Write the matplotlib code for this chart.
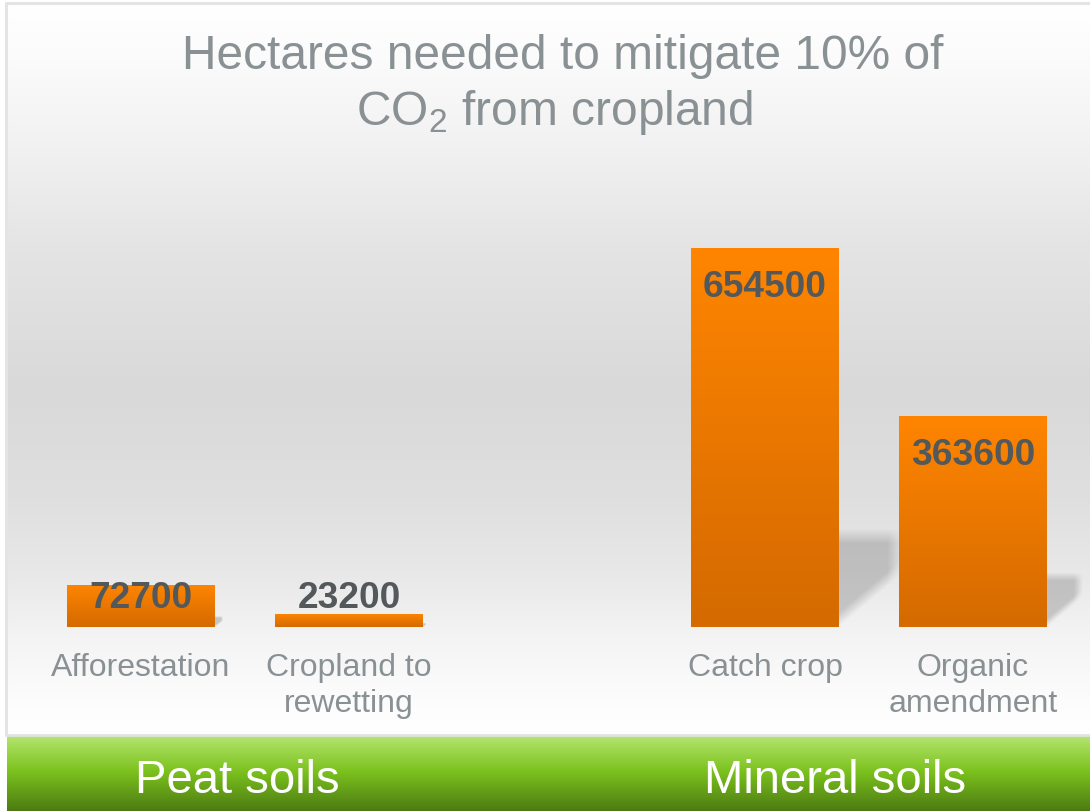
"""Hectares needed to mitigate 10% of CO2 from cropland (bar chart with gradient styling)."""
import numpy as np
import matplotlib
matplotlib.use("Agg")
import matplotlib.pyplot as plt
from matplotlib.colors import LinearSegmentedColormap
from matplotlib.transforms import blended_transform_factory

# data
categories = ["Afforestation", "Cropland to\nrewetting", "Catch crop", "Organic\namendment"]
hectares = [72700, 23200, 654500, 363600]
positions = [0, 1, 3, 4]
groups = ["Peat soils", "Mineral soils"]
group_x = [237, 835]  # text centre, figure pixels

TITLE = "Hectares needed to mitigate 10% of"
TITLE2 = r"CO$_{\mathrm{2}}$ from cropland"

W, H = 1090, 812
FONT = "Liberation Sans"
GREY_TXT = "#8a9194"
VALUE_TXT = "#53585b"

plt.rcParams.update({
    "font.family": [FONT, "DejaVu Sans"],
    "mathtext.fontset": "custom",
    "mathtext.rm": FONT,
    "mathtext.it": FONT,
})


def py(p):
    """pixel row (from top) -> figure fraction"""
    return 1 - p / H


def vgrad(stops):
    pos = [s[0] for s in stops]
    lo, hi = pos[0], pos[-1]
    cm = LinearSegmentedColormap.from_list(
        "g", [((p - lo) / (hi - lo), c) for p, c in stops])
    return cm(np.linspace(0, 1, 256))[:, None, :]


def shadow_img(low_frac, n=120):
    """soft grey shadow: fades at top, right and along the lower diagonal"""
    u = np.linspace(0, 1, n)[None, :]
    t = np.linspace(1, 0, n)[:, None]  # row 0 = top
    a_top = np.clip((1 - t) / 0.15, 0, 1)
    a_right = np.clip((1 - u) / 0.25, 0, 1)
    a_diag = np.clip((t - u * low_frac) / 0.15, 0, 1)
    img = np.zeros((n, n, 4))
    img[..., :3] = 0.3
    img[..., 3] = 0.26 * a_top * a_right * a_diag
    return img


fig = plt.figure(figsize=(W / 100, H / 100), dpi=100)
fig.patch.set_facecolor("white")

# background layer in pixel coordinates
bg = fig.add_axes([0, 0, 1, 1], zorder=0)
bg.axis("off")
panel = vgrad([(5, "#ffffff"), (60, "#fbfbfb"), (150, "#f1f1f1"), (250, "#e4e4e4"),
               (390, "#d9d9d9"), (500, "#dfdfdf"), (580, "#e9e9e9"), (640, "#f4f4f4"),
               (700, "#fcfcfc"), (735, "#ffffff")])
bg.imshow(panel, extent=[7, W, 735, 5], aspect="auto", interpolation="bicubic")
band = vgrad([(737, "#b4e56f"), (772, "#7cc21e"), (812, "#4c7b12")])
bg.imshow(band, extent=[7, W, H, 737], aspect="auto", interpolation="bicubic")
bg.plot([6, 6, W], [737, 4, 4], color="#e4e4e4", lw=2.2, solid_capstyle="butt")
bg.plot([7, W], [736, 736], color="#e2e2e2", lw=2)
bg.set_xlim(0, W)
bg.set_ylim(H, 0)

for g, gx in zip(groups, group_x):
    bg.text(gx, 793, g, ha="center", va="baseline", fontsize=34, color="white")

fig.text(563 / W, py(69), TITLE, ha="center", va="baseline", fontsize=34.5, color=GREY_TXT)
fig.text(555 / W, py(125), TITLE2, ha="center", va="baseline", fontsize=34.5, color=GREY_TXT)

# bar axes
ax = fig.add_axes([7 / W, py(628), 1 - 7 / W, (628 - 150) / H], zorder=1)
ax.patch.set_visible(False)
ax.axis("off")
xlim = ((7 - 141) / 208, (W - 141) / 208)
ylim = (0, 654500 * 478 / 379)

width = 148 / 208
px_per_unit = 379 / 654500

# soft shadows to the right of the bars
for x, v in zip(positions, hectares):
    r = x + width / 2
    dx = v * px_per_unit * 0.17 / 208
    ax.imshow(shadow_img(0.55), extent=[r, r + dx, 0, 0.26 * v], aspect="auto",
              zorder=1, interpolation="bilinear")

bars = ax.bar(positions, hectares, width=width, color="#f07c00", zorder=2)
orange = vgrad([(0, "#ff8500"), (1, "#d46a00")])
for b in bars:
    x0, w, h = b.get_x(), b.get_width(), b.get_height()
    im = ax.imshow(orange, extent=[x0, x0 + w, 0, h], aspect="auto", zorder=3,
                   interpolation="bicubic")
    im.set_clip_path(b)

ax.set_xlim(*xlim)
ax.set_ylim(*ylim)

# value labels: inside the top of tall bars, sitting near the base for short ones
for x, v in zip(positions, hectares):
    ly = max(v - 48 / px_per_unit, 20 / px_per_unit)
    ax.text(x, ly, f"{v}", ha="center", va="baseline", fontsize=26.7,
            fontweight="bold", color=VALUE_TXT, zorder=5)

# category labels
tr = blended_transform_factory(ax.transData, fig.transFigure)
for x, lab in zip(positions, categories):
    for i, line in enumerate(lab.split("\n")):
        ax.text(x, py(676.5 + 35.5 * i), line, transform=tr, ha="center",
                va="baseline", fontsize=23, color=GREY_TXT)

fig.savefig("out.png", dpi=100)
